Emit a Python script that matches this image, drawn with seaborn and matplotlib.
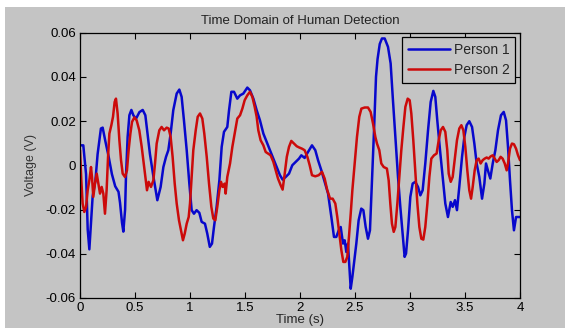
import numpy as np
import pandas as pd
import matplotlib
matplotlib.use("Agg")
import matplotlib.pyplot as plt
from matplotlib.patches import Rectangle
import seaborn as sns

# values
t_person1 = [0.0, 0.03, 0.055, 0.07, 0.085, 0.1, 0.115, 0.14, 0.16, 0.19, 0.206, 0.23, 0.26, 0.29,
             0.32, 0.35, 0.364, 0.382, 0.394, 0.41, 0.418, 0.433, 0.449, 0.467, 0.485, 0.509, 0.54,
             0.57, 0.594, 0.615, 0.636, 0.667, 0.703, 0.733, 0.758, 0.782, 0.803, 0.824, 0.848,
             0.879, 0.903, 0.924, 0.945, 0.97, 0.994, 1.015, 1.036, 1.06, 1.085, 1.106, 1.136,
             1.157, 1.18, 1.2, 1.218, 1.242, 1.267, 1.288, 1.309, 1.339, 1.355, 1.376, 1.4, 1.43,
             1.455, 1.485, 1.521, 1.545, 1.576, 1.606, 1.636, 1.667, 1.697, 1.727, 1.758, 1.788,
             1.818, 1.842, 1.87, 1.9, 1.93, 1.96, 1.991, 2.012, 2.042, 2.073, 2.109, 2.139, 2.164,
             2.194, 2.224, 2.255, 2.285, 2.309, 2.33, 2.352, 2.37, 2.391, 2.406, 2.421, 2.436,
             2.452, 2.461, 2.476, 2.49, 2.512, 2.533, 2.557, 2.576, 2.597, 2.618, 2.636, 2.655,
             2.673, 2.691, 2.705, 2.725, 2.745, 2.77, 2.8, 2.824, 2.843, 2.867, 2.891, 2.912,
             2.933, 2.951, 2.964, 2.982, 3.003, 3.024, 3.048, 3.073, 3.094, 3.115, 3.139, 3.164,
             3.188, 3.212, 3.23, 3.248, 3.273, 3.297, 3.321, 3.345, 3.37, 3.388, 3.409, 3.427,
             3.448, 3.473, 3.494, 3.515, 3.539, 3.564, 3.585, 3.606, 3.63, 3.655, 3.676, 3.691,
             3.712, 3.73, 3.752, 3.776, 3.8, 3.827, 3.852, 3.873, 3.891, 3.909, 3.927, 3.945,
             3.964, 3.982, 4.0]
v_person1 = [0.009, 0.009, -0.004, -0.029, -0.038, -0.026, -0.014, -0.007, 0.005, 0.0166, 0.017,
             0.011, 0.004, -0.004, -0.0095, -0.012, -0.017, -0.026, -0.030, -0.020, -0.005,
             0.0128, 0.0226, 0.025, 0.0226, 0.021, 0.024, 0.025, 0.0226, 0.014, 0.005, -0.005,
             -0.0158, -0.0098, -0.0008, 0.0038, 0.0068, 0.0143, 0.0249, 0.0324, 0.0342, 0.0309,
             0.0203, 0.0068, -0.0083, -0.0203, -0.0219, -0.0203, -0.0215, -0.0256, -0.0264,
             -0.0309, -0.0369, -0.0354, -0.0279, -0.0188, -0.0068, 0.0083, 0.0151, 0.0173,
             0.0249, 0.0332, 0.0332, 0.0301, 0.0316, 0.0324, 0.0351, 0.0339, 0.0301, 0.0249,
             0.0203, 0.0143, 0.0105, 0.0068, 0.003, -0.0008, -0.0045, -0.0065, -0.0053, -0.0038,
             0.0, 0.0015, 0.003, 0.0045, 0.0033, 0.006, 0.009, 0.0068, 0.0023, -0.0023, -0.0075,
             -0.0128, -0.0234, -0.0324, -0.0324, -0.0294, -0.0279, -0.0354, -0.0339, -0.0392,
             -0.0354, -0.049, -0.0558, -0.0505, -0.0445, -0.0354, -0.0249, -0.0196, -0.0203,
             -0.0279, -0.0332, -0.0294, -0.0068, 0.0158, 0.040, 0.048, 0.0548, 0.0573, 0.0573,
             0.0535, 0.046, 0.0309, 0.0128, -0.0053, -0.0188, -0.0309, -0.0414, -0.0399, -0.0294,
             -0.0143, -0.0083, -0.0075, -0.0098, -0.0136, -0.0113, 0.0008, 0.0158, 0.0286, 0.0336,
             0.0309, 0.0203, 0.0068, -0.0053, -0.0173, -0.0234, -0.0166, -0.0188, -0.0158,
             -0.0203, -0.0098, 0.0038, 0.0128, 0.0181, 0.0199, 0.0173, 0.0098, 0.0008, -0.0053,
             -0.0151, -0.0083, 0.0008, -0.003, -0.006, 0.0008, 0.0068, 0.0158, 0.0226, 0.0241,
             0.0203, 0.0083, -0.0068, -0.0203, -0.0294, -0.0234, -0.0234, -0.0234]

t_person2 = [0.0, 0.012, 0.024, 0.039, 0.055, 0.07, 0.085, 0.1, 0.109, 0.121, 0.136, 0.152, 0.167,
             0.182, 0.197, 0.212, 0.227, 0.242, 0.255, 0.267, 0.285, 0.3, 0.315, 0.327, 0.342,
             0.358, 0.373, 0.388, 0.409, 0.427, 0.442, 0.458, 0.473, 0.494, 0.515, 0.539, 0.561,
             0.579, 0.594, 0.609, 0.624, 0.645, 0.667, 0.682, 0.697, 0.721, 0.742, 0.764, 0.788,
             0.806, 0.824, 0.842, 0.861, 0.879, 0.9, 0.918, 0.936, 0.952, 0.97, 0.988, 1.0, 1.015,
             1.03, 1.052, 1.07, 1.091, 1.112, 1.13, 1.152, 1.173, 1.194, 1.212, 1.23, 1.248, 1.267,
             1.282, 1.297, 1.315, 1.324, 1.339, 1.364, 1.385, 1.406, 1.43, 1.455, 1.476, 1.497,
             1.521, 1.545, 1.567, 1.588, 1.606, 1.621, 1.642, 1.667, 1.688, 1.709, 1.733, 1.758,
             1.779, 1.8, 1.824, 1.842, 1.861, 1.88, 1.9, 1.921, 1.945, 1.97, 1.994, 2.018, 2.042,
             2.067, 2.088, 2.109, 2.139, 2.17, 2.2, 2.224, 2.248, 2.273, 2.297, 2.321, 2.339,
             2.358, 2.376, 2.394, 2.412, 2.43, 2.445, 2.461, 2.476, 2.497, 2.518, 2.539, 2.558,
             2.588, 2.618, 2.642, 2.664, 2.685, 2.7, 2.721, 2.739, 2.761, 2.79, 2.806, 2.821,
             2.836, 2.852, 2.867, 2.885, 2.903, 2.921, 2.94, 2.958, 2.979, 2.997, 3.012, 3.03,
             3.048, 3.067, 3.085, 3.103, 3.121, 3.139, 3.158, 3.176, 3.194, 3.218, 3.242, 3.261,
             3.279, 3.3, 3.321, 3.339, 3.352, 3.37, 3.388, 3.406, 3.427, 3.448, 3.467, 3.485,
             3.503, 3.521, 3.539, 3.555, 3.57, 3.588, 3.606, 3.624, 3.642, 3.661, 3.679, 3.697,
             3.715, 3.733, 3.752, 3.77, 3.788, 3.806, 3.824, 3.842, 3.861, 3.879, 3.891, 3.909,
             3.927, 3.945, 3.964, 3.982, 4.0]
v_person2 = [0.0068, -0.0068, -0.0173, -0.0211, -0.0188, -0.0113, -0.0068, -0.0008, -0.0053,
             -0.0143, -0.0083, -0.0038, -0.0083, -0.0128, -0.0098, -0.0128, -0.0219, -0.0113,
             0.0038, 0.0143, 0.0181, 0.0219, 0.0286, 0.0301, 0.0234, 0.0113, 0.0023, -0.0038,
             -0.0053, -0.0023, 0.0068, 0.0143, 0.0196, 0.0216, 0.0203, 0.0158, 0.0083, 0.0008,
             -0.0053, -0.0113, -0.0075, -0.0098, -0.0068, 0.0008, 0.0098, 0.0158, 0.0173, 0.0158,
             0.017, 0.0166, 0.0128, 0.0038, -0.0083, -0.0173, -0.0249, -0.0294, -0.0339, -0.0309,
             -0.0264, -0.0234, -0.0173, -0.0053, 0.0068, 0.0158, 0.0219, 0.0234, 0.0211, 0.0143,
             0.0038, -0.0083, -0.0188, -0.0241, -0.0249, -0.0188, -0.0113, -0.0075, -0.0098,
             -0.0083, -0.0128, -0.0053, 0.0008, 0.0083, 0.0143, 0.0211, 0.0226, 0.0256, 0.0294,
             0.0316, 0.0332, 0.0309, 0.0264, 0.0219, 0.0158, 0.0113, 0.009, 0.006, 0.0053, 0.0045,
             0.0015, -0.0023, -0.006, -0.009, -0.011, -0.0038, 0.0038, 0.0083, 0.011, 0.0098,
             0.0086, 0.008, 0.0075, 0.0068, 0.0038, 0.0, -0.0045, -0.005, -0.0045, -0.003, -0.006,
             -0.0113, -0.0151, -0.0151, -0.0173, -0.0234, -0.0309, -0.0384, -0.0437, -0.0437,
             -0.0414, -0.0324, -0.0219, -0.0113, 0.0008, 0.0128, 0.0219, 0.0256, 0.0261, 0.0261,
             0.0241, 0.0188, 0.0128, 0.0098, 0.0068, 0.0008, -0.0008, -0.0015, -0.0068, -0.0173,
             -0.0264, -0.0301, -0.0279, -0.0173, -0.0053, 0.0068, 0.0173, 0.0264, 0.0301, 0.0294,
             0.0234, 0.0113, -0.0023, -0.0173, -0.0279, -0.0332, -0.0336, -0.0279, -0.0173,
             -0.0053, 0.003, 0.0045, 0.0053, 0.0113, 0.0158, 0.0173, 0.0151, 0.0068, -0.0038,
             -0.0075, -0.0053, 0.0023, 0.0113, 0.0166, 0.0181, 0.0158, 0.0083, -0.0023, -0.0113,
             -0.0151, -0.0098, -0.0023, 0.0023, 0.003, 0.0008, 0.0023, 0.003, 0.0035, 0.003,
             0.004, 0.0045, 0.003, 0.0015, 0.0023, 0.0038, 0.003, 0.0008, -0.0023, 0.0008, 0.0075,
             0.0098, 0.0095, 0.0075, 0.0045, 0.0023]

x_ticks = [0, 0.5, 1, 1.5, 2, 2.5, 3, 3.5, 4]
y_ticks = [-0.06, -0.04, -0.02, 0, 0.02, 0.04, 0.06]
y_tick_labels = ["-0.06", "-0.04", "-0.02", "0", "0.02", "0.04", "0.06"]
x_tick_labels = ["0", "0.5", "1", "1.5", "2", "2.5", "3", "3.5", "4"]

BG = "#c4c4c4"

sns.set_style("ticks")
plt.rcParams["font.family"] = ["Liberation Sans", "DejaVu Sans"]

fig = plt.figure(figsize=(5.71, 3.28), dpi=100)
fig.patch.set_facecolor(BG)
# white margins at top, left and right of the gray window
for (x0, y0, w, h) in [(0, 321 / 328, 1, 7 / 328), (0, 0, 5 / 571, 1), (565 / 571, 0, 6 / 571, 1)]:
    fig.patches.append(Rectangle((x0, y0), w, h, transform=fig.transFigure,
                                 facecolor="white", edgecolor="none"))

ax = fig.add_axes([80 / 571, 30 / 328, 440 / 571, 265.5 / 328])
ax.set_facecolor(BG)

sns.lineplot(x=t_person1, y=v_person1, ax=ax, color="#0808cc", linewidth=1.8,
             label="Person 1", sort=False, estimator=None)
sns.lineplot(x=t_person2, y=v_person2, ax=ax, color="#cc0a0a", linewidth=1.8,
             label="Person 2", sort=False, estimator=None)

ax.set_xlim(0, 4)
ax.set_ylim(-0.06, 0.06)
ax.set_xticks(x_ticks)
ax.set_xticklabels(x_tick_labels)
ax.set_yticks(y_ticks)
ax.set_yticklabels(y_tick_labels)
ax.tick_params(direction="in", length=4, width=0.8, top=True, right=True,
               labelsize=9.5, colors="black", pad=3)
for s in ax.spines.values():
    s.set_visible(True)
    s.set_color("black")
    s.set_linewidth(0.9)

ax.set_title("Time Domain of Human Detection", fontsize=9.5, color="#222222", pad=6)
ax.set_xlabel("Time (s)", fontsize=9.5, labelpad=0)
ax.set_ylabel("Voltage (V)", fontsize=9, labelpad=6, color="#333333")

leg = ax.legend(loc="upper right", fontsize=10, frameon=True, fancybox=False,
                handlelength=3.0, handletextpad=0.3, borderaxespad=0.35, borderpad=0.4,
                labelspacing=0.45)
leg.get_frame().set_edgecolor("black")
leg.get_frame().set_facecolor(BG)
leg.get_frame().set_alpha(1)
leg.get_frame().set_linewidth(0.9)

fig.savefig("out.png", dpi=100, facecolor=fig.get_facecolor())
